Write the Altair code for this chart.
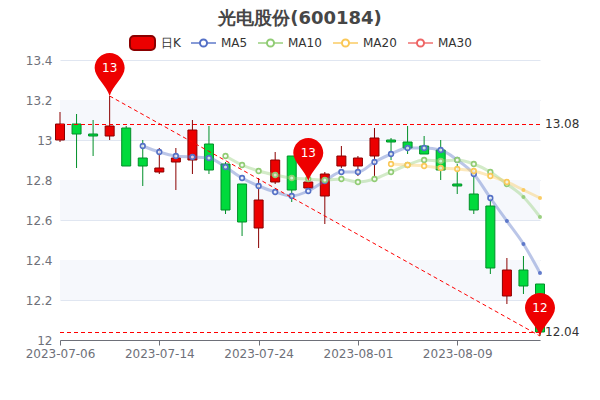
import json
import altair as alt
import pandas as pd

FONT = "DejaVu Sans"
dates = ["2023-07-06","2023-07-07","2023-07-10","2023-07-11","2023-07-12","2023-07-13","2023-07-14",
         "2023-07-17","2023-07-18","2023-07-19","2023-07-20","2023-07-21","2023-07-24","2023-07-25",
         "2023-07-26","2023-07-27","2023-07-28","2023-07-31","2023-08-01","2023-08-02","2023-08-03",
         "2023-08-04","2023-08-07","2023-08-08","2023-08-09","2023-08-10","2023-08-11","2023-08-14",
         "2023-08-15","2023-08-16"]
tick_dates = ["2023-07-06","2023-07-14","2023-07-24","2023-08-01","2023-08-09"]
y_ticks = [12, 12.2, 12.4, 12.6, 12.8, 13, 13.2, 13.4]

opens  = [13.00,13.08,13.03,13.02,13.06,12.91,12.84,12.89,12.90,12.98,12.88,12.78,12.56,12.79,12.92,
          12.76,12.72,12.87,12.87,12.92,13.00,12.99,12.97,12.95,12.78,12.73,12.67,12.22,12.35,12.28]
closes = [13.08,13.03,13.02,13.07,12.87,12.87,12.86,12.91,13.05,12.85,12.65,12.59,12.70,12.90,12.75,
          12.79,12.83,12.92,12.91,13.01,12.99,12.96,12.93,12.85,12.77,12.65,12.36,12.35,12.27,12.04]
lows   = [12.99,12.86,12.92,13.00,12.87,12.77,12.83,12.75,12.83,12.83,12.63,12.52,12.46,12.78,12.69,
          12.76,12.58,12.86,12.82,12.82,12.90,12.93,12.93,12.80,12.73,12.63,12.33,12.18,12.23,12.02]
highs  = [13.14,13.13,13.10,13.22,13.07,13.00,12.96,12.96,13.10,13.07,12.89,12.78,12.81,12.94,12.92,
          12.81,12.84,12.97,12.92,13.06,13.01,13.07,13.02,13.00,12.88,12.85,12.71,12.41,12.42,12.28]

ma5 = [12.97,12.94,12.92,12.915,12.91,12.865,12.81,12.77,12.74,12.72,12.745,12.795,12.84,12.84,12.89,
       12.93,12.96,12.96,12.95,12.90,12.83,12.71,12.595,12.48,12.335]
ma10 = [12.92,12.875,12.845,12.825,12.81,12.805,12.80,12.805,12.79,12.805,12.84,12.875,12.90,12.895,12.90,
        12.88,12.84,12.78,12.715,12.615]
ma20 = [12.88,12.875,12.87,12.86,12.855,12.845,12.82,12.79,12.75,12.71]

high_line = 13.08
low_line = 12.04
pins = [("2023-07-11", 13.22, "13"), ("2023-07-27", 12.795, "13"), ("2023-08-16", 12.02, "12")]
diagonal_values = [13.22, 12.02]
diagonal_dates = ["2023-07-11", "2023-08-16"]

RED, RED_D = "#EC0000", "#8A0000"
GREEN, GREEN_D = "#00DA3C", "#008F28"
C5, C10, C20, C30 = "#5470C6", "#91CC75", "#FAC858", "#EE6666"
PIN_PATH = "M0,0 C-0.2,-0.7 -1,-1.25 -1,-1.87 A1,1 0 1 1 1,-1.87 C1,-1.25 0.2,-0.7 0,0 Z"

pos = {d: i for i, d in enumerate(dates)}
candles = pd.DataFrame({"i": range(len(dates)), "open": opens, "close": closes, "low": lows, "high": highs})
candles["dir"] = ["up" if c >= o else "down" for o, c in zip(opens, closes)]

xs = alt.Scale(domain=[0, len(dates) - 1], nice=False, zero=False, padding=0)
ys = alt.Scale(domain=[12, 13.4], nice=False, zero=False)
x_axis = alt.Axis(values=[pos[d] for d in tick_dates], title=None, labelAngle=0, labelColor="#6E7079",
                  labelFontSize=12, labelFont=FONT, domainColor="#6E7079", tickColor="#6E7079", tickSize=5,
                  labelPadding=3, grid=False, labelOverlap=False, domainWidth=1, labelFlush=False,
                  labelExpr=json.dumps(dates) + "[datum.value]")
y_axis = alt.Axis(values=y_ticks, title=None, labelColor="#6E7079", labelFontSize=12, labelFont=FONT,
                  domain=False, ticks=False, tickSize=0, labelPadding=8, grid=True, gridColor="#E0E6F1",
                  format="~g")
x_plain = alt.X("i:Q", scale=xs, axis=x_axis)
y_plain = lambda f: alt.Y(f"{f}:Q", scale=ys, axis=y_axis)

bands = pd.DataFrame({"lo": [12.2, 12.6, 13.0], "hi": [12.4, 12.8, 13.2]})
band_layer = alt.Chart(bands).mark_rect(color="#F6F8FC").encode(
    x=alt.value(0), x2=alt.value(480), y=y_plain("lo"), y2="hi:Q")

dir_stroke = alt.Stroke("dir:N", scale=alt.Scale(domain=["up", "down"], range=[RED_D, GREEN_D]), legend=None)

wick = alt.Chart(candles).mark_rule(strokeWidth=1).encode(
    x=x_plain, y=y_plain("low"), y2="high:Q", stroke=dir_stroke)
body = alt.Chart(candles).mark_bar(size=9, strokeWidth=1, opacity=1, orient="vertical").encode(
    x=x_plain, y=y_plain("open"), y2="close:Q",
    fill=alt.Fill("dir:N", scale=alt.Scale(domain=["up", "down"], range=[RED, GREEN]), legend=None),
    stroke=dir_stroke)


def ma_layers(values, color, solid_from):
    start = len(dates) - len(values)
    df = pd.DataFrame({"i": range(start, len(dates)), "v": values})
    ring = df.iloc[:solid_from]
    solid = df.iloc[solid_from:]
    line = alt.Chart(df).mark_line(color=color, strokeWidth=3, opacity=0.4, interpolate="monotone").encode(
        x=x_plain, y=y_plain("v"))
    pts = alt.Chart(ring).mark_point(shape="circle", size=22, color=color, fill="#FFFFFF", fillOpacity=0.75,
                                     filled=False, strokeWidth=1.6, opacity=1).encode(x=x_plain, y=y_plain("v"))
    dots = alt.Chart(solid).mark_point(shape="circle", size=16, color=color, filled=True, opacity=0.9).encode(
        x=x_plain, y=y_plain("v"))
    return [line, pts, dots]


ma_all = ma_layers(ma5, C5, len(ma5) - 3) + ma_layers(ma10, C10, len(ma10) - 2) + ma_layers(ma20, C20, len(ma20) - 2)

DASH = [4, 3]
levels = pd.DataFrame({"v": [high_line, low_line], "label": ["13.08", "12.04"], "s": [0, 0], "i": [len(dates) - 1] * 2})
level_rules = alt.Chart(levels).mark_rule(color="#FF0000", strokeDash=DASH, strokeWidth=1, yOffset=0.5).encode(
    y=y_plain("v"), x=alt.X("s:Q", scale=xs, axis=x_axis), x2="i:Q")
level_text = alt.Chart(levels).mark_text(align="left", dx=5, fontSize=12, font=FONT, color="#333333").encode(
    x=x_plain, y=y_plain("v"), text="label:N")
diag = alt.Chart(pd.DataFrame({"i": [pos[d] for d in diagonal_dates], "v": diagonal_values})).mark_line(
    color="#FF0000", strokeDash=DASH, strokeWidth=1).encode(x=x_plain, y=y_plain("v"))

pin_df = pd.DataFrame([(pos[d], v, t) for d, v, t in pins], columns=["i", "v", "label"])
pin_mark = alt.Chart(pin_df).mark_point(shape=PIN_PATH, size=900, filled=True, color="#EE0000", opacity=1).encode(
    x=x_plain, y=y_plain("v"))
pin_text = alt.Chart(pin_df).mark_text(color="#FFFFFF", fontSize=12, font=FONT, dy=-28).encode(
    x=x_plain, y=y_plain("v"), text="label:N")

# legend, positioned relative to the plot origin
legend_y = -17
one = pd.DataFrame({"a": [1]})
legend_layers = [
    alt.Chart(one).mark_rect(fill=RED, stroke=RED_D, strokeWidth=2, cornerRadius=4).encode(
        x=alt.value(70), x2=alt.value(95), y=alt.value(legend_y - 7), y2=alt.value(legend_y + 7)),
    alt.Chart(pd.DataFrame({"t": ["日K"]})).mark_text(align="left", fontSize=12, font=FONT, color="#333333").encode(
        x=alt.value(101), y=alt.value(legend_y), text="t:N"),
]
legend_items = [("MA5", C5, 131), ("MA10", C10, 198), ("MA20", C20, 273), ("MA30", C30, 348)]
for name, color, left in legend_items:
    legend_layers += [
        alt.Chart(one).mark_rule(color=color, strokeWidth=2, opacity=0.7).encode(
            x=alt.value(left), x2=alt.value(left + 25), y=alt.value(legend_y)),
        alt.Chart(one).mark_point(shape="circle", size=50, color=color, fill="#FFFFFF", fillOpacity=1,
                                  filled=False, strokeWidth=2, opacity=1).encode(
            x=alt.value(left + 12.5), y=alt.value(legend_y)),
        alt.Chart(pd.DataFrame({"t": [name]})).mark_text(align="left", fontSize=12, font=FONT, color="#333333").encode(
            x=alt.value(left + 30), y=alt.value(legend_y), text="t:N"),
    ]

chart = alt.layer(
    band_layer, wick, body, *ma_all, level_rules, diag, level_text, pin_mark, pin_text, *legend_layers
).properties(
    width=480, height=280,
    title=alt.TitleParams("光电股份(600184)", fontSize=18, fontWeight="bold", color="#464646", font=FONT,
                          anchor="middle", offset=7, frame="group"),
    padding={"left": 52, "top": 52, "right": 52, "bottom": 52},
    autosize=alt.AutoSizeParams(type="none"),
).configure_view(stroke=None).resolve_scale(x="shared", y="shared")

chart.save("out.html", embed_options={"renderer": "svg", "actions": False})
